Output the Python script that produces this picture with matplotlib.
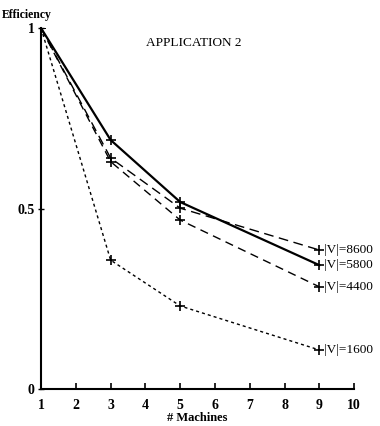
import matplotlib
matplotlib.use('Agg')
import matplotlib.pyplot as plt

machines = [1, 3, 5, 9]
eff_8600 = [1.0, 0.64, 0.501, 0.385]
eff_5800 = [1.0, 0.69, 0.518, 0.343]
eff_4400 = [1.0, 0.63, 0.468, 0.283]
eff_1600 = [1.0, 0.357, 0.23, 0.108]
labels = ['|V|=8600', '|V|=5800', '|V|=4400', '|V|=1600']

plt.rcParams['font.family'] = ['Liberation Serif', 'DejaVu Serif']

fig = plt.figure(figsize=(3.8, 4.26), dpi=100)
ax = fig.add_axes([0.108, 0.087, 0.824, 0.847])

series = [eff_8600, eff_5800, eff_4400, eff_1600]
styles = [dict(ls=(0, (7, 4)), lw=1.0),
          dict(ls='-', lw=1.6),
          dict(ls=(0, (6, 4)), lw=1.0),
          dict(ls=(0, (2.2, 2.2)), lw=1.0)]
for vals, st, lab in zip(series, styles, labels):
    ax.plot(machines, vals, color='black', marker='+', ms=7, mew=1.2, **st)
    ax.text(machines[-1] + 0.12, vals[-1], lab, fontsize=9.5,
            va='center', ha='left')

ax.set_xlim(1, 10)
ax.set_ylim(0, 1)
ax.set_xticks(range(1, 11))
ax.set_yticks([0, 0.5, 1])
ax.set_yticklabels(['0', '0.5', '1'])
ax.spines['top'].set_visible(False)
ax.spines['right'].set_visible(False)
for s in ['left', 'bottom']:
    ax.spines[s].set_linewidth(1.5)
ax.tick_params(axis='x', direction='in', length=4, width=1.2, labelsize=10, pad=7)
ax.tick_params(axis='y', direction='inout', length=5, width=1.0, labelsize=10, pad=2)
for t in ax.get_xticklabels() + ax.get_yticklabels():
    t.set_fontweight('bold')

ax.text(5.4, 0.96, 'APPLICATION 2', fontsize=9.5, ha='center', va='center')
fig.text(0.005, 0.965, 'Efficiency', fontsize=8.5, fontweight='bold', ha='left', va='center')
ax.set_xlabel('# Machines', fontsize=9, fontweight='bold', labelpad=0)

fig.savefig('out.png', dpi=100)
